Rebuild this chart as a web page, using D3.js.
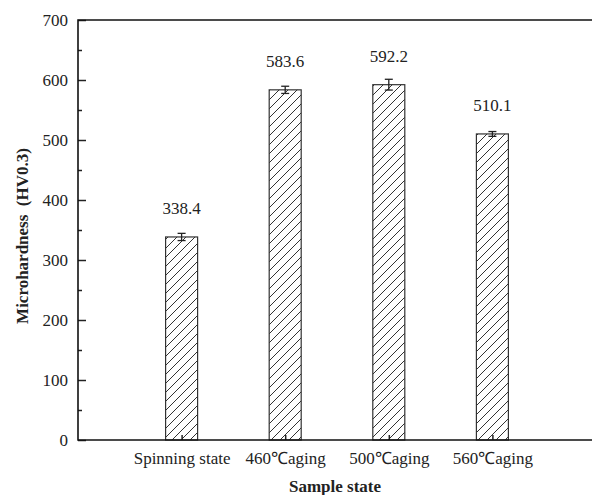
<!DOCTYPE html>
<html>
<head>
  <script src="https://cdn.jsdelivr.net/npm/d3@7/dist/d3.min.js"></script>
  <title>Microhardness</title>
  <style>
    body { margin: 0; background: #fff; }
    text { font-family: "Liberation Serif", "Times New Roman", serif; fill: #222; }
    .title { font-weight: bold; font-size: 17px; }
  </style>
</head>
<body>
<svg id="chart" width="592" height="495"></svg>
<script>
  // data
  var categories = ["Spinning state", "460\u2103aging", "500\u2103aging", "560\u2103aging"];
  var hardness = [338.4, 583.6, 592.2, 510.1];
  var errors = [6, 6, 9, 4];
  var yTicks = [0, 100, 200, 300, 400, 500, 600, 700];

  var svg = d3.select("#chart");
  var padL = 78, padT = 20, padB = 440, padR = 596;

  var x = d3.scaleLinear().domain([0, 5]).range([padL, padR]);
  var y = d3.scaleLinear().domain([0, 700]).range([padB, padT]);

  // hatch
  var defs = svg.append("defs");
  var pat = defs.append("pattern").attr("id", "hatch").attr("patternUnits", "userSpaceOnUse")
    .attr("width", 9).attr("height", 9);
  pat.append("rect").attr("width", 9).attr("height", 9).attr("fill", "#fff");
  pat.append("path").attr("d", "M0,9 L9,0 M-3,3 L3,-3 M6,12 L12,6")
    .attr("stroke", "#333").attr("stroke-width", 1);

  var barW = 32;
  var bars = svg.append("g");
  bars.selectAll("rect").data(hardness).enter().append("rect")
    .attr("x", function(d, i) { return x(i + 1) - barW / 2; })
    .attr("y", function(d) { return y(d); })
    .attr("width", barW)
    .attr("height", function(d) { return y(0) - y(d); })
    .attr("fill", "url(#hatch)")
    .attr("stroke", "#333").attr("stroke-width", 1.2);

  // error bars
  var eb = svg.append("g").attr("stroke", "#222").attr("stroke-width", 1.3);
  hardness.forEach(function(d, i) {
    var cx = x(i + 1);
    eb.append("line").attr("x1", cx).attr("x2", cx).attr("y1", y(d - errors[i])).attr("y2", y(d + errors[i]));
    eb.append("line").attr("x1", cx - 4).attr("x2", cx + 4).attr("y1", y(d - errors[i])).attr("y2", y(d - errors[i]));
    eb.append("line").attr("x1", cx - 4).attr("x2", cx + 4).attr("y1", y(d + errors[i])).attr("y2", y(d + errors[i]));
  });

  // value labels
  svg.append("g").selectAll("text").data(hardness).enter().append("text")
    .attr("x", function(d, i) { return x(i + 1); })
    .attr("y", function(d) { return y(d) - 23; })
    .attr("text-anchor", "middle").attr("font-size", 17)
    .text(function(d) { return d.toFixed(1); });

  // y axis
  var yAxis = svg.append("g").attr("transform", "translate(" + padL + ",0)")
    .call(d3.axisLeft(y).tickValues(yTicks).tickSize(-8).tickPadding(10));
  yAxis.select(".domain").remove();
  yAxis.selectAll("text").attr("font-size", 17).attr("font-family", "Liberation Serif");
  yAxis.selectAll("line").attr("stroke", "#222").attr("stroke-width", 1.5);
  svg.append("g").attr("transform", "translate(" + padL + ",0)")
    .call(d3.axisLeft(y).tickValues(d3.range(50, 700, 100)).tickSize(-4).tickFormat(""))
    .call(function(g) { g.select(".domain").remove(); })
    .selectAll("line").attr("stroke", "#222").attr("stroke-width", 1.5);

  // x axis ticks at bar centres
  var xAxis = svg.append("g").attr("transform", "translate(0," + padB + ")")
    .call(d3.axisBottom(x).tickValues([1, 2, 3, 4]).tickSize(-5).tickPadding(12)
      .tickFormat(function(d) { return categories[d - 1]; }));
  xAxis.select(".domain").remove();
  xAxis.selectAll("text").attr("font-size", 17).attr("font-family", "Liberation Serif");
  xAxis.selectAll("line").attr("stroke", "#222").attr("stroke-width", 1.5);

  // frame
  svg.append("path").attr("d", "M" + padR + "," + padB + "H" + padL + "V" + padT + "H" + padR)
    .attr("fill", "none").attr("stroke", "#111").attr("stroke-width", 1.6);

  svg.append("text").attr("class", "title").attr("x", 335).attr("y", 492)
    .attr("text-anchor", "middle").text("Sample state");
  svg.append("text").attr("class", "title")
    .attr("transform", "translate(28,236) rotate(-90)")
    .attr("text-anchor", "middle").attr("xml:space", "preserve").text("Microhardness  (HV0.3)");
</script>
</body>
</html>
